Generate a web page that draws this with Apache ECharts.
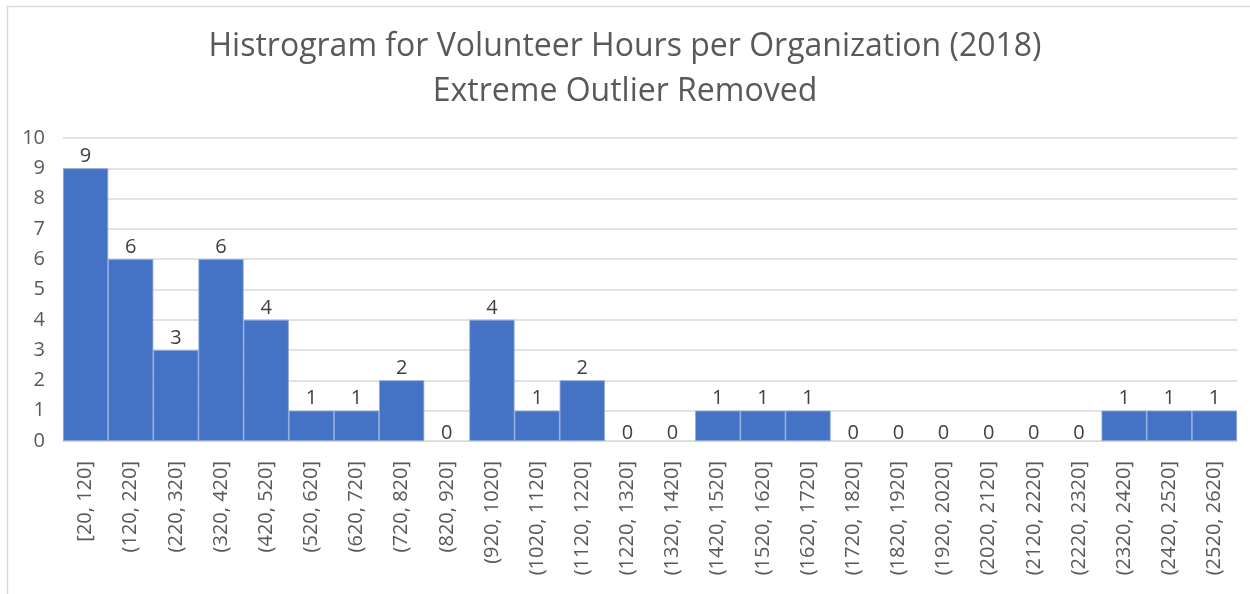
<!DOCTYPE html>
<html><head><meta charset="utf-8">
<script src="https://cdn.jsdelivr.net/npm/echarts@6/dist/echarts.min.js"></script>
<style>html,body{margin:0;padding:0;background:#fff}#c{width:1250px;height:594px}</style>
</head><body><div id="c"></div>
<script>
const titleLines = ["Histrogram for Volunteer Hours per Organization (2018)", "Extreme Outlier Removed"];
const categories = ["[20, 120]","(120, 220]","(220, 320]","(320, 420]","(420, 520]","(520, 620]","(620, 720]","(720, 820]","(820, 920]","(920, 1020]","(1020, 1120]","(1120, 1220]","(1220, 1320]","(1320, 1420]","(1420, 1520]","(1520, 1620]","(1620, 1720]","(1720, 1820]","(1820, 1920]","(1920, 2020]","(2020, 2120]","(2120, 2220]","(2220, 2320]","(2320, 2420]","(2420, 2520]","(2520, 2620]"];
const counts = [9,6,3,6,4,1,1,2,0,4,1,2,0,0,1,1,1,0,0,0,0,0,0,1,1,1];
const yTicks = [0,1,2,3,4,5,6,7,8,9,10];

const chart = echarts.init(document.getElementById('c'), null, {renderer:'canvas'});
const font = '"Open Sans", "Liberation Sans", sans-serif';
chart.setOption({
  backgroundColor:'#ffffff',
  animation:false,
  graphic:[{type:'rect', shape:{x:7.5,y:6.5,width:1400,height:800}, style:{fill:'none', stroke:'#d9d9d9', lineWidth:1.5}, silent:true}],
  title:{text:titleLines.join('\n'), left:'center', top:19,
    textStyle:{fontFamily:font, fontSize:32, fontWeight:'normal', color:'#595959', lineHeight:45}},
  grid:{left:63, right:13, top:138, bottom:153, containLabel:false},
  xAxis:{type:'category', data:categories,
    axisLine:{show:true, lineStyle:{color:'#d9d9d9'}}, axisTick:{show:false},
    axisLabel:{rotate:90, interval:0, fontFamily:font, fontSize:20, color:'#595959', margin:20}},
  yAxis:{type:'value', min:yTicks[0], max:yTicks[yTicks.length-1], interval:1,
    axisLine:{show:false}, axisTick:{show:false},
    splitLine:{show:true, lineStyle:{color:'#d9d9d9', width:1.5}},
    axisLabel:{fontFamily:font, fontSize:20, color:'#595959', margin:18}},
  series:[{type:'bar', barCategoryGap:'0%',
    data:counts.map(v => ({value:v,
      itemStyle:{borderWidth: v === 0 ? 0 : 0.8},
      label: v === 0 ? {offset:[0,4]} : {}})),
    itemStyle:{color:'#4472C4', borderColor:'#8aa5d8'},
    label:{show:true, position:'top', distance:2, fontFamily:font, fontSize:20, color:'#404040'}}]
});
</script></body></html>
